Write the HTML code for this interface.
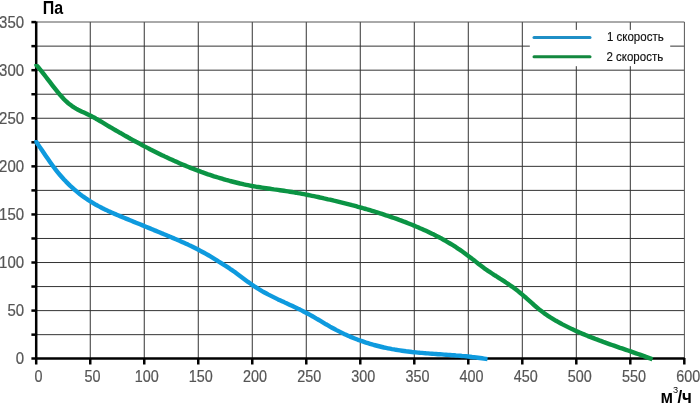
<!DOCTYPE html>
<html><head><meta charset="utf-8"><style>
html,body{margin:0;padding:0;background:#fff;width:700px;height:403px;overflow:hidden}
svg{display:block;will-change:transform}
</style></head><body>
<svg width="700" height="403" viewBox="0 0 700 403">
<g stroke="#333" stroke-width="1"><line x1="90.25" y1="22" x2="90.25" y2="358"/><line x1="144.26" y1="22" x2="144.26" y2="358"/><line x1="198.27" y1="22" x2="198.27" y2="358"/><line x1="252.27" y1="22" x2="252.27" y2="358"/><line x1="306.28" y1="22" x2="306.28" y2="358"/><line x1="360.28" y1="22" x2="360.28" y2="358"/><line x1="414.29" y1="22" x2="414.29" y2="358"/><line x1="468.29" y1="22" x2="468.29" y2="358"/><line x1="522.30" y1="22" x2="522.30" y2="358"/><line x1="576.30" y1="22" x2="576.30" y2="358"/><line x1="630.31" y1="22" x2="630.31" y2="358"/><line x1="36" y1="334.66" x2="684.4" y2="334.66"/><line x1="36" y1="310.61" x2="684.4" y2="310.61"/><line x1="36" y1="286.57" x2="684.4" y2="286.57"/><line x1="36" y1="262.52" x2="684.4" y2="262.52"/><line x1="36" y1="238.48" x2="684.4" y2="238.48"/><line x1="36" y1="214.44" x2="684.4" y2="214.44"/><line x1="36" y1="190.39" x2="684.4" y2="190.39"/><line x1="36" y1="166.35" x2="684.4" y2="166.35"/><line x1="36" y1="142.31" x2="684.4" y2="142.31"/><line x1="36" y1="118.26" x2="684.4" y2="118.26"/><line x1="36" y1="94.22" x2="684.4" y2="94.22"/><line x1="36" y1="70.18" x2="684.4" y2="70.18"/><line x1="36" y1="46.13" x2="684.4" y2="46.13"/><path d="M36,22 H684.4 V358" fill="none" stroke="#555"/></g>
<rect x="529.8" y="29.9" width="140.4" height="36.3" fill="#fff"/><line x1="534" y1="37.4" x2="590" y2="37.4" stroke="#1f8fc6" stroke-width="3" stroke-linecap="round"/><line x1="534" y1="56.7" x2="590" y2="56.7" stroke="#12883e" stroke-width="3" stroke-linecap="round"/>
<g stroke="#000" stroke-width="2.5"><line x1="36.2" y1="21.5" x2="36.2" y2="364.5"/><line x1="31.4" y1="358.5" x2="684.6" y2="358.5"/><line x1="31.4" y1="334.66" x2="36" y2="334.66"/><line x1="31.4" y1="310.61" x2="36" y2="310.61"/><line x1="31.4" y1="286.57" x2="36" y2="286.57"/><line x1="31.4" y1="262.52" x2="36" y2="262.52"/><line x1="31.4" y1="238.48" x2="36" y2="238.48"/><line x1="31.4" y1="214.44" x2="36" y2="214.44"/><line x1="31.4" y1="190.39" x2="36" y2="190.39"/><line x1="31.4" y1="166.35" x2="36" y2="166.35"/><line x1="31.4" y1="142.31" x2="36" y2="142.31"/><line x1="31.4" y1="118.26" x2="36" y2="118.26"/><line x1="31.4" y1="94.22" x2="36" y2="94.22"/><line x1="31.4" y1="70.18" x2="36" y2="70.18"/><line x1="31.4" y1="46.13" x2="36" y2="46.13"/><line x1="31.4" y1="22.09" x2="36" y2="22.09"/><line x1="90.25" y1="358" x2="90.25" y2="364.5"/><line x1="144.26" y1="358" x2="144.26" y2="364.5"/><line x1="198.27" y1="358" x2="198.27" y2="364.5"/><line x1="252.27" y1="358" x2="252.27" y2="364.5"/><line x1="306.28" y1="358" x2="306.28" y2="364.5"/><line x1="360.28" y1="358" x2="360.28" y2="364.5"/><line x1="414.29" y1="358" x2="414.29" y2="364.5"/><line x1="468.29" y1="358" x2="468.29" y2="364.5"/><line x1="522.30" y1="358" x2="522.30" y2="364.5"/><line x1="576.30" y1="358" x2="576.30" y2="364.5"/><line x1="630.31" y1="358" x2="630.31" y2="364.5"/><line x1="684.31" y1="358" x2="684.31" y2="364.5"/></g>
<defs><clipPath id="cb"><rect x="34.3" y="140.1" width="460" height="230"/></clipPath><clipPath id="cg"><rect x="34.3" y="63.9" width="630" height="310"/></clipPath></defs><path clip-path="url(#cb)" d="M33.7,138.2L36.0,141.5 38.0,144.4 40.0,147.4 42.0,150.3 44.0,153.3 46.0,156.2 48.0,159.1 50.0,162.0 52.0,164.8 54.0,167.5 56.0,170.1 58.0,172.6 60.0,175.0 62.0,177.3 64.0,179.5 66.0,181.6 68.0,183.6 70.0,185.6 72.0,187.4 74.0,189.2 76.0,190.9 78.0,192.6 80.0,194.2 82.0,195.7 84.0,197.1 86.0,198.5 88.0,199.9 90.0,201.2 92.0,202.4 94.0,203.6 96.0,204.8 98.0,205.9 100.0,206.9 102.0,208.0 104.0,209.0 106.0,209.9 108.0,210.9 110.0,211.8 112.0,212.7 114.0,213.6 116.0,214.4 118.0,215.3 120.0,216.1 122.0,216.9 124.0,217.8 126.0,218.6 128.0,219.4 130.0,220.2 132.0,221.0 134.0,221.9 136.0,222.7 138.0,223.5 140.0,224.3 142.0,225.1 144.0,225.9 146.0,226.8 148.0,227.6 150.0,228.4 152.0,229.2 154.0,230.1 156.0,230.9 158.0,231.7 160.0,232.5 162.0,233.4 164.0,234.2 166.0,235.0 168.0,235.9 170.0,236.7 172.0,237.6 174.0,238.4 176.0,239.3 178.0,240.1 180.0,241.0 182.0,241.9 184.0,242.8 186.0,243.7 188.0,244.6 190.0,245.6 192.0,246.5 194.0,247.5 196.0,248.5 198.0,249.5 200.0,250.6 202.0,251.7 204.0,252.8 206.0,253.9 208.0,255.0 210.0,256.2 212.0,257.4 214.0,258.6 216.0,259.8 218.0,261.1 220.0,262.3 222.0,263.6 224.0,264.9 226.0,266.1 228.0,267.4 230.0,268.8 232.0,270.1 234.0,271.5 236.0,272.9 238.0,274.4 240.0,275.9 242.0,277.4 244.0,278.9 246.0,280.4 248.0,281.9 250.0,283.3 252.0,284.7 254.0,286.1 256.0,287.4 258.0,288.7 260.0,289.9 262.0,291.1 264.0,292.2 266.0,293.3 268.0,294.4 270.0,295.4 272.0,296.4 274.0,297.4 276.0,298.4 278.0,299.4 280.0,300.3 282.0,301.2 284.0,302.1 286.0,303.1 288.0,304.0 290.0,304.9 292.0,305.8 294.0,306.8 296.0,307.7 298.0,308.7 300.0,309.6 302.0,310.6 304.0,311.7 306.0,312.7 308.0,313.8 310.0,314.9 312.0,316.0 314.0,317.2 316.0,318.4 318.0,319.5 320.0,320.7 322.0,321.9 324.0,323.1 326.0,324.3 328.0,325.4 330.0,326.6 332.0,327.7 334.0,328.8 336.0,329.9 338.0,330.9 340.0,331.9 342.0,332.9 344.0,333.9 346.0,334.8 348.0,335.7 350.0,336.6 352.0,337.4 354.0,338.2 356.0,339.0 358.0,339.8 360.0,340.5 362.0,341.2 364.0,341.9 366.0,342.6 368.0,343.2 370.0,343.8 372.0,344.4 374.0,345.0 376.0,345.5 378.0,346.0 380.0,346.5 382.0,347.0 384.0,347.5 386.0,347.9 388.0,348.3 390.0,348.7 392.0,349.1 394.0,349.4 396.0,349.8 398.0,350.1 400.0,350.4 402.0,350.7 404.0,351.0 406.0,351.3 408.0,351.5 410.0,351.7 412.0,352.0 414.0,352.2 416.0,352.4 418.0,352.6 420.0,352.8 422.0,352.9 424.0,353.1 426.0,353.3 428.0,353.4 430.0,353.6 432.0,353.7 434.0,353.9 436.0,354.0 438.0,354.2 440.0,354.3 442.0,354.4 444.0,354.6 446.0,354.7 448.0,354.9 450.0,355.0 452.0,355.2 454.0,355.3 456.0,355.5 458.0,355.6 460.0,355.8 462.0,356.0 464.0,356.1 466.0,356.3 468.0,356.5 470.0,356.7 472.0,357.0 474.0,357.2 476.0,357.4 478.0,357.7 480.0,358.0 482.0,358.3 484.0,358.6 486.0,358.9 487.5,359.1" fill="none" stroke="#0e9ade" stroke-width="4.4" stroke-linejoin="round"/><path clip-path="url(#cg)" d="M33.4,61.8L36.0,64.8 38.0,67.0 40.0,69.4 42.0,71.9 44.0,74.4 46.0,77.0 48.0,79.6 50.0,82.2 52.0,84.8 54.0,87.4 56.0,89.9 58.0,92.4 60.0,94.8 62.0,97.0 64.0,99.2 66.0,101.2 68.0,103.0 70.0,104.6 72.0,106.1 74.0,107.4 76.0,108.6 78.0,109.7 80.0,110.7 82.0,111.7 84.0,112.6 86.0,113.5 88.0,114.5 90.0,115.4 92.0,116.5 94.0,117.5 96.0,118.7 98.0,119.8 100.0,121.0 102.0,122.2 104.0,123.4 106.0,124.6 108.0,125.8 110.0,127.0 112.0,128.1 114.0,129.3 116.0,130.5 118.0,131.6 120.0,132.8 122.0,133.9 124.0,135.1 126.0,136.2 128.0,137.3 130.0,138.5 132.0,139.6 134.0,140.7 136.0,141.8 138.0,142.8 140.0,143.9 142.0,145.0 144.0,146.1 146.0,147.1 148.0,148.1 150.0,149.2 152.0,150.2 154.0,151.2 156.0,152.2 158.0,153.2 160.0,154.2 162.0,155.2 164.0,156.1 166.0,157.1 168.0,158.0 170.0,158.9 172.0,159.8 174.0,160.8 176.0,161.6 178.0,162.5 180.0,163.4 182.0,164.3 184.0,165.1 186.0,165.9 188.0,166.8 190.0,167.6 192.0,168.4 194.0,169.1 196.0,169.9 198.0,170.7 200.0,171.4 202.0,172.2 204.0,172.9 206.0,173.6 208.0,174.3 210.0,174.9 212.0,175.6 214.0,176.3 216.0,176.9 218.0,177.5 220.0,178.1 222.0,178.7 224.0,179.3 226.0,179.9 228.0,180.4 230.0,181.0 232.0,181.5 234.0,182.0 236.0,182.5 238.0,183.0 240.0,183.5 242.0,183.9 244.0,184.4 246.0,184.8 248.0,185.2 250.0,185.6 252.0,186.0 254.0,186.3 256.0,186.7 258.0,187.0 260.0,187.3 262.0,187.6 264.0,187.9 266.0,188.2 268.0,188.5 270.0,188.8 272.0,189.1 274.0,189.4 276.0,189.6 278.0,189.9 280.0,190.2 282.0,190.5 284.0,190.8 286.0,191.1 288.0,191.4 290.0,191.7 292.0,192.0 294.0,192.4 296.0,192.7 298.0,193.1 300.0,193.4 302.0,193.8 304.0,194.2 306.0,194.6 308.0,195.0 310.0,195.4 312.0,195.8 314.0,196.2 316.0,196.6 318.0,197.0 320.0,197.5 322.0,197.9 324.0,198.4 326.0,198.8 328.0,199.3 330.0,199.7 332.0,200.2 334.0,200.7 336.0,201.1 338.0,201.6 340.0,202.1 342.0,202.6 344.0,203.1 346.0,203.6 348.0,204.1 350.0,204.6 352.0,205.2 354.0,205.7 356.0,206.2 358.0,206.8 360.0,207.3 362.0,207.9 364.0,208.5 366.0,209.0 368.0,209.6 370.0,210.2 372.0,210.8 374.0,211.4 376.0,212.0 378.0,212.7 380.0,213.3 382.0,213.9 384.0,214.6 386.0,215.3 388.0,215.9 390.0,216.6 392.0,217.3 394.0,218.0 396.0,218.7 398.0,219.4 400.0,220.2 402.0,220.9 404.0,221.7 406.0,222.4 408.0,223.2 410.0,224.0 412.0,224.8 414.0,225.6 416.0,226.5 418.0,227.3 420.0,228.2 422.0,229.0 424.0,229.9 426.0,230.8 428.0,231.7 430.0,232.7 432.0,233.7 434.0,234.6 436.0,235.7 438.0,236.7 440.0,237.8 442.0,238.8 444.0,240.0 446.0,241.1 448.0,242.3 450.0,243.5 452.0,244.7 454.0,245.9 456.0,247.2 458.0,248.6 460.0,249.9 462.0,251.3 464.0,252.7 466.0,254.2 468.0,255.7 470.0,257.2 472.0,258.8 474.0,260.3 476.0,261.9 478.0,263.5 480.0,265.1 482.0,266.6 484.0,268.1 486.0,269.5 488.0,270.9 490.0,272.2 492.0,273.5 494.0,274.8 496.0,276.0 498.0,277.3 500.0,278.6 502.0,279.8 504.0,281.1 506.0,282.5 508.0,283.8 510.0,285.2 512.0,286.6 514.0,288.1 516.0,289.6 518.0,291.1 520.0,292.7 522.0,294.4 524.0,296.1 526.0,297.8 528.0,299.6 530.0,301.4 532.0,303.2 534.0,305.0 536.0,306.7 538.0,308.4 540.0,310.1 542.0,311.6 544.0,313.1 546.0,314.5 548.0,315.9 550.0,317.2 552.0,318.4 554.0,319.6 556.0,320.8 558.0,321.9 560.0,323.0 562.0,324.1 564.0,325.1 566.0,326.1 568.0,327.1 570.0,328.1 572.0,329.1 574.0,330.0 576.0,330.9 578.0,331.8 580.0,332.7 582.0,333.6 584.0,334.4 586.0,335.2 588.0,336.1 590.0,336.9 592.0,337.6 594.0,338.4 596.0,339.2 598.0,339.9 600.0,340.7 602.0,341.4 604.0,342.2 606.0,342.9 608.0,343.6 610.0,344.3 612.0,345.0 614.0,345.7 616.0,346.4 618.0,347.1 620.0,347.8 622.0,348.4 624.0,349.1 626.0,349.8 628.0,350.5 630.0,351.2 632.0,351.9 634.0,352.6 636.0,353.3 638.0,354.0 640.0,354.7 642.0,355.4 644.0,356.1 646.0,356.9 648.0,357.6 650.0,358.3 652.0,359.1 652.5,359.3" fill="none" stroke="#0b9444" stroke-width="4.4" stroke-linejoin="round"/>
<g font-family="'Liberation Sans', Arial, Helvetica, sans-serif" font-size="15" fill="#555" stroke="#555" stroke-width="0.2"><text transform="translate(24.1 364.30) scale(1 1.1)" text-anchor="end">0</text><text transform="translate(24.1 316.21) scale(1 1.1)" text-anchor="end">50</text><text transform="translate(24.1 268.12) scale(1 1.1)" text-anchor="end">100</text><text transform="translate(24.1 220.04) scale(1 1.1)" text-anchor="end">150</text><text transform="translate(24.1 171.95) scale(1 1.1)" text-anchor="end">200</text><text transform="translate(24.1 123.86) scale(1 1.1)" text-anchor="end">250</text><text transform="translate(24.1 75.78) scale(1 1.1)" text-anchor="end">300</text><text transform="translate(24.1 27.69) scale(1 1.1)" text-anchor="end">350</text><text transform="translate(38.45 381.7) scale(0.96 1.06)" text-anchor="middle">0</text><text transform="translate(92.59 381.7) scale(0.96 1.06)" text-anchor="middle">50</text><text transform="translate(146.73 381.7) scale(0.96 1.06)" text-anchor="middle">100</text><text transform="translate(200.87 381.7) scale(0.96 1.06)" text-anchor="middle">150</text><text transform="translate(255.01 381.7) scale(0.96 1.06)" text-anchor="middle">200</text><text transform="translate(309.15 381.7) scale(0.96 1.06)" text-anchor="middle">250</text><text transform="translate(363.29 381.7) scale(0.96 1.06)" text-anchor="middle">300</text><text transform="translate(417.43 381.7) scale(0.96 1.06)" text-anchor="middle">350</text><text transform="translate(471.57 381.7) scale(0.96 1.06)" text-anchor="middle">400</text><text transform="translate(525.71 381.7) scale(0.96 1.06)" text-anchor="middle">450</text><text transform="translate(579.85 381.7) scale(0.96 1.06)" text-anchor="middle">500</text><text transform="translate(633.99 381.7) scale(0.96 1.06)" text-anchor="middle">550</text><text transform="translate(688.13 381.7) scale(0.96 1.06)" text-anchor="middle">600</text></g>
<text transform="translate(42.8 13.7) scale(1 1.1)" font-family="'Liberation Sans', Arial, Helvetica, sans-serif" font-size="16" font-weight="bold" fill="#000">Па</text><text transform="translate(660.4 403) scale(1 1.05)" font-family="'Liberation Sans', Arial, Helvetica, sans-serif" font-weight="bold" font-size="17" fill="#000">м<tspan x="12.5" dy="-9.33" font-size="9.2" font-weight="normal">3</tspan><tspan x="17" dy="9.33">/ч</tspan></text><g font-family="'Liberation Sans', Arial, Helvetica, sans-serif" font-size="11.5" fill="#111" stroke="#111" stroke-width="0.15"><text transform="translate(607 40.6) scale(1 1.04)">1 скорость</text><text transform="translate(606.5 60.9) scale(1 1.04)">2 скорость</text></g>
</svg>
</body></html>
